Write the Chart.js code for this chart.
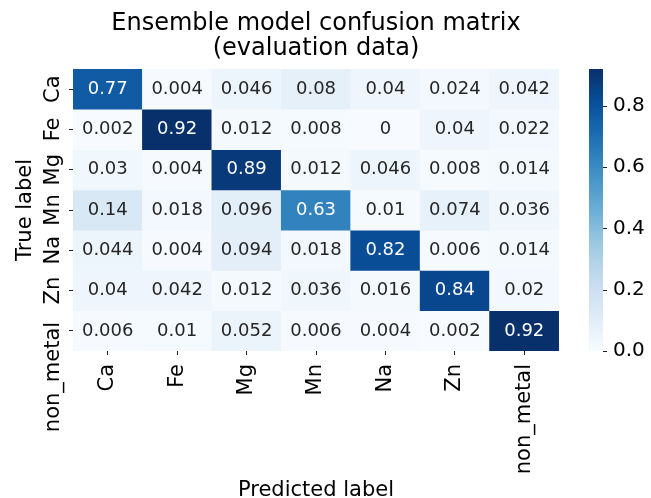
<!DOCTYPE html>
<html>
<head>
<meta charset="utf-8">
<script src="https://cdn.jsdelivr.net/npm/chart.js@4.4.1/dist/chart.umd.min.js"></script>
<style>
  html, body { margin: 0; padding: 0; background: #fff; }
  #wrap { width: 651px; height: 498px; }
</style>
</head>
<body>
<div id="wrap"><canvas id="cm"></canvas></div>
<script>
const FONT = '"DejaVu Sans", sans-serif';

// Labels of the confusion matrix
const predictedLabels = ['Ca', 'Fe', 'Mg', 'Mn', 'Na', 'Zn', 'non_metal'];
const trueLabels = ['Ca', 'Fe', 'Mg', 'Mn', 'Na', 'Zn', 'non_metal'];

// One row per true label, one value per predicted label
const rowCa = [0.77, 0.004, 0.046, 0.08, 0.04, 0.024, 0.042];
const rowFe = [0.002, 0.92, 0.012, 0.008, 0, 0.04, 0.022];
const rowMg = [0.03, 0.004, 0.89, 0.012, 0.046, 0.008, 0.014];
const rowMn = [0.14, 0.018, 0.096, 0.63, 0.01, 0.074, 0.036];
const rowNa = [0.044, 0.004, 0.094, 0.018, 0.82, 0.006, 0.014];
const rowZn = [0.04, 0.042, 0.012, 0.036, 0.016, 0.84, 0.02];
const rowNonMetal = [0.006, 0.01, 0.052, 0.006, 0.004, 0.002, 0.92];
const matrix = [rowCa, rowFe, rowMg, rowMn, rowNa, rowZn, rowNonMetal];

// Colour bar
const colorbarTicks = [0.0, 0.2, 0.4, 0.6, 0.8];
const vmin = 0;
const vmax = 0.92;

// matplotlib "Blues"
const bluesStops = ['#f7fbff', '#deebf7', '#c6dbef', '#9ecae1', '#6baed6',
                    '#4292c6', '#2171b5', '#08519c', '#08306b'];

function hexToRgb(h) {
  return [parseInt(h.slice(1, 3), 16), parseInt(h.slice(3, 5), 16), parseInt(h.slice(5, 7), 16)];
}

function blues(v) {
  let t = (v - vmin) / (vmax - vmin);
  t = Math.max(0, Math.min(1, t));
  const pos = t * (bluesStops.length - 1);
  const k = Math.min(Math.floor(pos), bluesStops.length - 2);
  const f = pos - k;
  const a = hexToRgb(bluesStops[k]);
  const b = hexToRgb(bluesStops[k + 1]);
  return a.map((c, i) => Math.round(c + (b[i] - c) * f));
}

function cellColor(v) {
  const [r, g, b] = blues(v);
  return `rgb(${r},${g},${b})`;
}

// same rule seaborn uses to pick the annotation colour
function textColorFor(v) {
  const lin = blues(v).map(c => {
    c = c / 255;
    return c <= 0.03928 ? c / 12.92 : Math.pow((c + 0.055) / 1.055, 2.4);
  });
  const lum = 0.2126 * lin[0] + 0.7152 * lin[1] + 0.0722 * lin[2];
  return lum > 0.408 ? '#262626' : '#ffffff';
}

const heatmapExtras = {
  id: 'heatmapExtras',
  afterDatasetsDraw(chart) {
    const ctx = chart.ctx;
    ctx.save();
    ctx.font = `18px ${FONT}`;
    ctx.textAlign = 'center';
    ctx.textBaseline = 'middle';
    matrix.forEach((row, i) => {
      const meta = chart.getDatasetMeta(i);
      meta.data.forEach((bar, j) => {
        ctx.fillStyle = textColorFor(row[j]);
        ctx.fillText(String(row[j]), bar.x, (bar.y + bar.base) / 2);
      });
    });
    ctx.restore();
  },
  afterDraw(chart) {
    const ctx = chart.ctx;
    const area = chart.chartArea;

    // rotated row labels; long ones hang down from the tick
    const yScale = chart.scales.y;
    const rowH = Math.abs(yScale.getPixelForValue(1) - yScale.getPixelForValue(0));
    ctx.save();
    ctx.font = `21px ${FONT}`;
    ctx.fillStyle = '#000';
    ctx.textAlign = 'center';
    ctx.textBaseline = 'alphabetic';
    trueLabels.forEach((lab, i) => {
      const y = yScale.getPixelForValue(i + 0.5);
      const tw = ctx.measureText(lab).width;
      const cy = tw > rowH ? y - 9 + tw / 2 : y;
      ctx.save();
      ctx.translate(area.left - 14, cy);
      ctx.rotate(-Math.PI / 2);
      ctx.fillText(lab, 0, 0);
      ctx.restore();
    });
    ctx.restore();

    // colour bar
    const y2 = chart.scales.y2;
    const x0 = area.right + 30;
    const w = 14;
    const top = y2.getPixelForValue(vmax);
    const bottom = y2.getPixelForValue(vmin);
    const grad = ctx.createLinearGradient(0, bottom, 0, top);
    bluesStops.forEach((c, k) => grad.addColorStop(k / (bluesStops.length - 1), c));
    ctx.save();
    ctx.fillStyle = grad;
    ctx.fillRect(x0, top, w, bottom - top);
    ctx.strokeStyle = '#222';
    ctx.lineWidth = 1;
    y2.ticks.forEach(t => {
      const y = Math.round(y2.getPixelForValue(t.value)) + 0.5;
      ctx.beginPath();
      ctx.moveTo(x0 + w, y);
      ctx.lineTo(x0 + w + 4, y);
      ctx.stroke();
    });
    ctx.restore();
  }
};

const datasets = trueLabels.map((name, i) => ({
  label: name,
  data: predictedLabels.map(() => 1),
  backgroundColor: matrix[i].map(v => cellColor(v)),
  borderWidth: 0,
  barPercentage: 1,
  categoryPercentage: 1
}));

new Chart(document.getElementById('cm'), {
  type: 'bar',
  data: { labels: predictedLabels, datasets },
  plugins: [heatmapExtras],
  options: {
    responsive: true,
    maintainAspectRatio: false,
    animation: false,
    events: [],
    layout: { padding: 0 },
    plugins: {
      legend: { display: false },
      tooltip: { enabled: false },
      title: {
        display: true,
        fullSize: false,
        text: ['Ensemble model confusion matrix', '(evaluation data)'],
        color: '#000',
        font: { family: FONT, size: 24, weight: 'normal', lineHeight: '24.5px' },
        padding: { top: 11.75, bottom: 8.25 }
      }
    },
    scales: {
      x: {
        type: 'category',
        stacked: true,
        offset: true,
        grid: { drawOnChartArea: false, drawTicks: true, tickLength: 4, offset: false, color: '#222', lineWidth: 1 },
        border: { display: false },
        ticks: {
          font: { family: FONT, size: 21 },
          color: '#000',
          minRotation: 90,
          maxRotation: 90,
          padding: 9,
          autoSkip: false
        },
        title: {
          display: true,
          text: 'Predicted label',
          color: '#000',
          font: { family: FONT, size: 21, lineHeight: 0.7 },
          padding: { top: 0, bottom: 0 }
        },
        afterFit(scale) { scale.height = 147; }
      },
      y: {
        type: 'linear',
        min: 0,
        max: 7,
        reverse: true,
        stacked: true,
        afterBuildTicks(scale) {
          scale.ticks = trueLabels.map((_, i) => ({ value: i + 0.5 }));
        },
        grid: { drawOnChartArea: false, drawTicks: true, tickLength: 4, color: '#222', lineWidth: 1 },
        border: { display: false },
        ticks: { display: false },
        title: {
          display: true,
          text: 'True label',
          color: '#000',
          font: { family: FONT, size: 21 },
          padding: { top: 13, bottom: 0 }
        },
        afterFit(scale) { scale.width = 73; }
      },
      y2: {
        type: 'linear',
        position: 'right',
        min: vmin,
        max: vmax,
        afterBuildTicks(scale) {
          scale.ticks = colorbarTicks.map(v => ({ value: v }));
        },
        grid: { display: false, drawTicks: false },
        border: { display: false },
        ticks: {
          font: { family: FONT, size: 20 },
          color: '#000',
          padding: 54,
          callback: v => v.toFixed(1)
        },
        afterFit(scale) { scale.width = 92; }
      }
    }
  }
});
</script>
</body>
</html>
